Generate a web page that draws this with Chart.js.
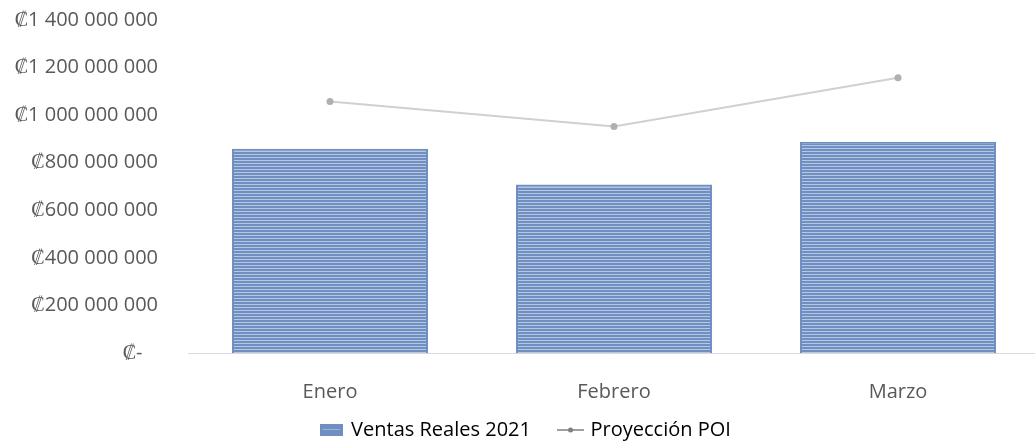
<!DOCTYPE html>
<html>
<head>
<meta charset="utf-8">
<script src="https://cdn.jsdelivr.net/npm/chart.js@4.4.0/dist/chart.umd.min.js"></script>
<style>
  html, body { margin: 0; padding: 0; background: #fff; overflow: hidden; }
  #wrap { width: 1046px; height: 442px; }
</style>
</head>
<body>
<div id="wrap"><canvas id="ventasChart"></canvas></div>
<script>
const months = ['Enero', 'Febrero', 'Marzo'];
const ventasReales = [859000000, 708000000, 888000000];
const proyeccionPOI = [1057000000, 952000000, 1157000000];
const yTicks = [0, 200000000, 400000000, 600000000, 800000000, 1000000000, 1200000000, 1400000000];

const BLUE = '#6f8fc2';

// striped fill like the original bars
function stripes(g) {
  const c = document.createElement('canvas');
  c.width = 4; c.height = 3;
  const p = c.getContext('2d');
  p.fillStyle = BLUE;
  p.fillRect(0, 0, 4, 3);
  p.fillStyle = 'rgba(255,255,255,0.5)';
  p.fillRect(0, 1, 4, 1);
  return g.createPattern(c, 'repeat');
}

// legend markers
function barMarker() {
  const c = document.createElement('canvas');
  c.width = 23; c.height = 12;
  const g = c.getContext('2d');
  g.fillStyle = BLUE;
  g.fillRect(0, 0, 23, 12);
  g.fillStyle = 'rgba(255,255,255,0.35)';
  g.fillRect(3, 5, 17, 1);
  return c;
}
function lineMarker() {
  const c = document.createElement('canvas');
  c.width = 27; c.height = 8;
  const g = c.getContext('2d');
  g.strokeStyle = '#7f7f7f';
  g.lineWidth = 1.5;
  g.beginPath(); g.moveTo(0, 4); g.lineTo(27, 4); g.stroke();
  g.fillStyle = '#7f7f7f';
  g.beginPath(); g.arc(13.5, 4, 2.5, 0, Math.PI * 2); g.fill();
  return c;
}

function fmt(v) {
  if (v === 0) return '₡-   ';
  return '₡' + String(v).replace(/\B(?=(\d{3})+(?!\d))/g, ' ');
}

const ctx = document.getElementById('ventasChart').getContext('2d');
const ventasChart = new Chart(ctx, {
  data: {
    labels: months,
    datasets: [{
      type: 'line',
      label: 'Proyección POI',
      data: proyeccionPOI,
      borderColor: '#d0d0d0',
      borderWidth: 2,
      pointRadius: 2.5,
      pointBackgroundColor: '#b0b0b0',
      pointBorderColor: '#b0b0b0',
      tension: 0,
      order: 1
    }, {
      type: 'bar',
      label: 'Ventas Reales 2021',
      data: ventasReales,
      backgroundColor: stripes(ctx),
      borderColor: BLUE,
      borderWidth: 2,
      categoryPercentage: 1,
      barPercentage: 0.69,
      order: 2
    }]
  },
  options: {
    responsive: true,
    maintainAspectRatio: false,
    animation: false,
    layout: { padding: { left: 6, right: 0, top: 20, bottom: -8 } },
    plugins: {
      tooltip: { enabled: false },
      legend: {
        position: 'bottom',
        labels: {
          color: '#595959',
          font: { family: 'Open Sans', size: 20 },
          usePointStyle: true,
          padding: 14,
          generateLabels(chart) {
            return [{
              text: 'Ventas Reales 2021   ',
              pointStyle: barMarker(),
              datasetIndex: 1
            }, {
              text: 'Proyección POI',
              pointStyle: lineMarker(),
              datasetIndex: 0
            }];
          }
        }
      }
    },
    scales: {
      x: {
        grid: { display: false, drawTicks: false },
        border: { display: true, color: '#d9d9d9', width: 1 },
        ticks: { color: '#595959', font: { family: 'Open Sans', size: 20 }, padding: 27 },
        afterFit(axis) { axis.height = 53; }
      },
      y: {
        min: 0,
        max: 1400000000,
        afterBuildTicks(axis) { axis.ticks = yTicks.map(v => ({ value: v })); },
        grid: { display: false, drawTicks: true, tickLength: 30 },
        border: { display: false },
        ticks: {
          color: '#595959',
          font: { family: 'Open Sans', size: 20 },
          padding: 0,
          callback: v => fmt(v)
        },
        afterFit(axis) { axis.width = 182; }
      }
    }
  }
});
</script>
</body>
</html>
